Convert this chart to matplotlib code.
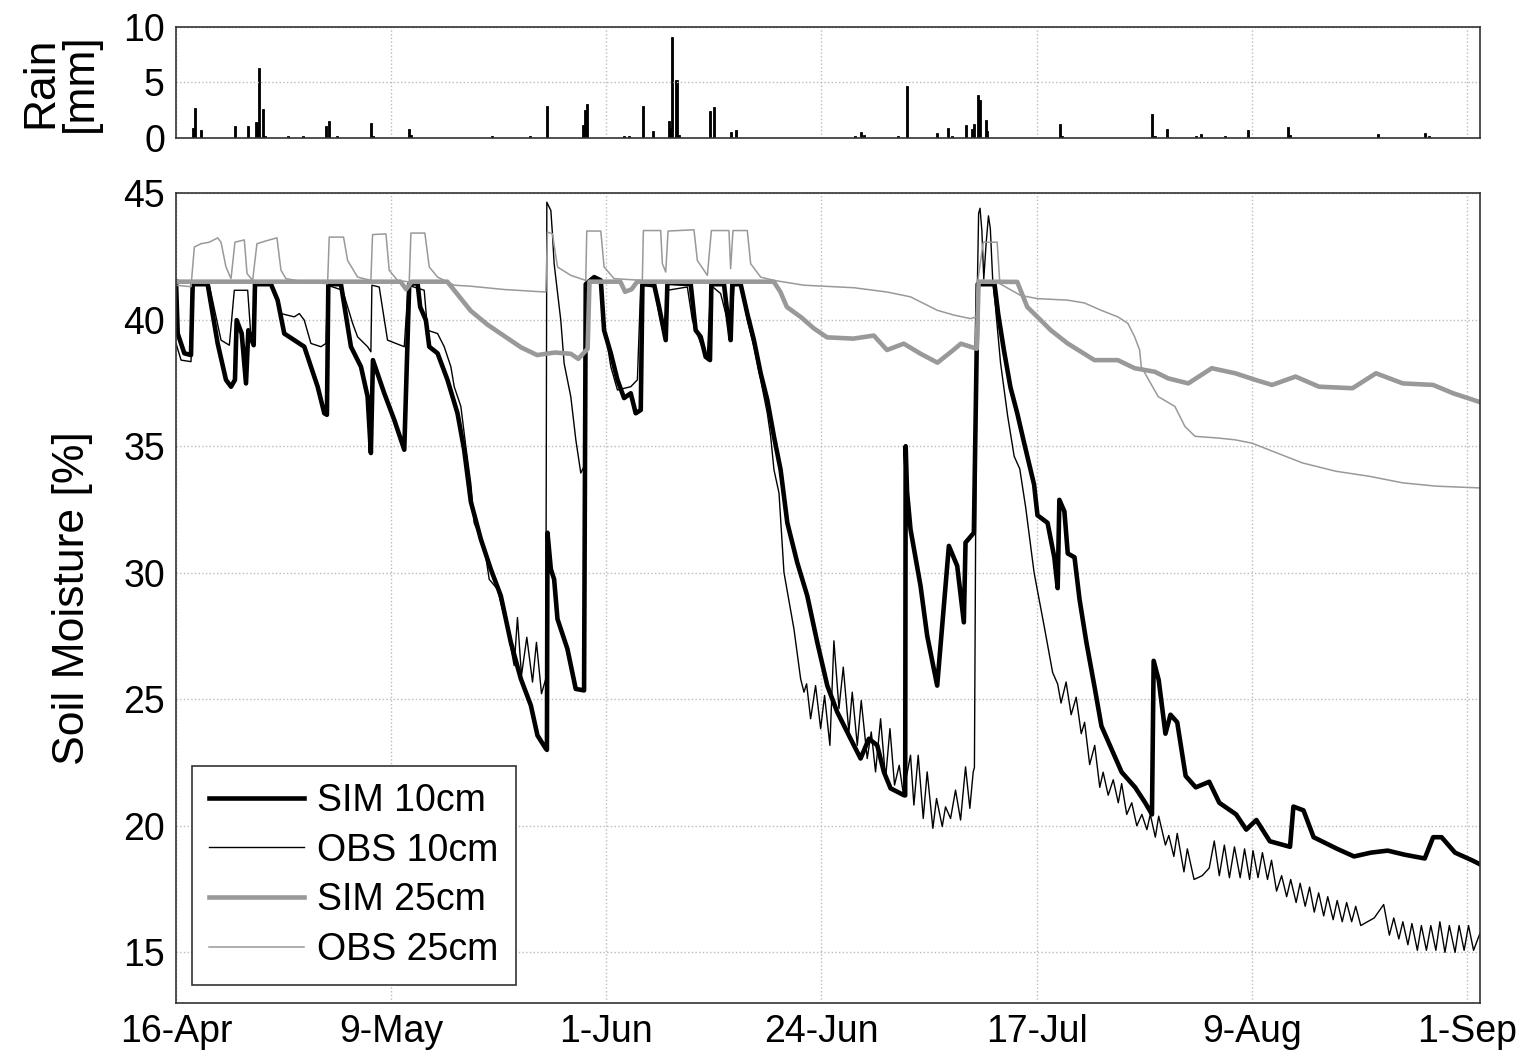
import numpy as np
import matplotlib
matplotlib.use('Agg')
from matplotlib import pyplot as plt

plt.rcParams['font.family'] = ['Liberation Sans', 'DejaVu Sans']

# x values are days after 16-Apr
tick_days = [0, 23, 46, 69, 92, 115, 138]
tick_labels = ['16-Apr', '9-May', '1-Jun', '24-Jun', '17-Jul', '9-Aug', '1-Sep']

# rain events (day, mm)
rain_day = [1.8, 2.02, 2.64, 6.32, 7.72, 8.6, 8.9, 9.27, 9.5, 12.0, 13.6, 16.0, 16.4, 17.2,
            20.8, 21.1, 24.9, 25.1, 33.8, 37.8, 39.7, 43.5, 43.7, 43.97, 47.9, 48.4, 49.9,
            51.0, 52.7, 52.85, 53.0, 53.5, 53.8, 57.1, 57.5, 59.3, 59.9, 72.6, 73.2, 73.5,
            77.2, 78.1, 81.4, 82.5, 83.0, 84.4, 85.1, 85.3, 85.7, 85.9, 86.6, 86.7, 94.5,
            94.7, 104.3, 104.6, 105.9, 109.0, 109.6, 112.1, 114.6, 118.9, 119.1, 128.5,
            133.5, 133.9]
rain_mm = [0.9, 2.7, 0.75, 1.05, 1.05, 1.45, 6.3, 2.65, 0.15, 0.15, 0.15, 1.1, 1.5, 0.2,
           1.35, 0.15, 0.8, 0.3, 0.15, 0.15, 2.9, 1.2, 2.55, 3.1, 0.2, 0.2, 2.9,
           0.65, 1.5, 0.9, 9.1, 5.2, 0.3, 2.4, 2.75, 0.5, 0.75, 0.15, 0.5, 0.3,
           0.15, 4.65, 0.45, 0.9, 0.15, 1.2, 0.85, 1.25, 3.9, 3.45, 1.65, 0.6, 1.3,
           0.2, 2.15, 0.15, 0.8, 0.15, 0.35, 0.2, 0.75, 1.0, 0.25, 0.35,
           0.45, 0.2]

# simulated soil moisture at 10 cm (day, %)
sim10 = [(0.0, 41.5), (0.18, 39.45), (0.89, 38.67), (1.6, 38.6), (1.78, 41.4), (3.38, 41.4),
         (4.45, 39.06), (5.34, 37.62), (5.88, 37.35), (6.3, 37.62), (6.48, 39.98), (7.02, 39.45),
         (7.48, 37.48), (7.73, 39.58), (8.3, 38.99), (8.44, 41.4), (10.15, 41.4), (10.86, 40.77),
         (11.57, 39.45), (12.64, 39.19), (13.71, 38.93), (14.42, 38.14), (15.14, 37.35),
         (15.85, 36.3), (16.13, 36.24), (16.28, 41.4), (17.63, 41.4), (18.7, 38.93),
         (19.77, 38.14), (20.48, 36.96), (20.83, 34.73), (21.05, 38.4), (22.26, 37.09),
         (23.33, 36.04), (24.4, 34.86), (24.93, 41.4), (25.82, 41.45), (26.1, 40.5),
         (26.71, 39.98), (27.07, 38.93), (27.96, 38.67), (29.02, 37.62), (30.09, 36.3),
         (30.8, 34.86), (31.52, 32.8), (32.59, 31.32), (33.65, 30.14), (34.72, 29.09),
         (35.79, 27.25), (36.86, 25.81), (37.93, 24.76), (38.64, 23.57), (39.53, 23.05),
         (39.65, 23.0), (39.71, 31.58), (40.07, 30.14), (40.42, 29.74), (40.78, 28.17),
         (41.84, 26.99), (42.73, 25.41), (43.62, 25.35), (43.8, 41.4), (44.7, 41.68),
         (45.41, 41.55), (45.76, 39.58), (46.48, 38.67), (47.19, 37.62), (47.9, 36.9),
         (48.61, 37.09), (49.14, 36.3), (49.68, 36.43), (49.86, 41.4), (51.1, 41.4),
         (51.64, 40.5), (52.35, 39.19), (52.53, 41.45), (55.02, 41.4), (55.55, 39.58),
         (56.09, 39.32), (56.62, 38.53), (57.08, 38.4), (57.23, 41.4), (58.58, 41.4),
         (58.94, 40.24), (59.29, 39.19), (59.47, 41.4), (60.36, 41.4), (61.07, 40.24),
         (61.78, 39.19), (62.5, 37.88), (63.21, 36.83), (63.92, 35.38), (64.63, 34.07),
         (65.35, 31.97), (66.41, 30.4), (67.48, 29.09), (68.55, 27.25), (69.62, 25.54),
         (70.69, 24.49), (72.11, 23.44), (73.18, 22.66), (74.07, 23.44), (74.96, 23.18),
         (75.67, 22.13), (76.39, 21.48), (77.81, 21.21), (77.95, 21.2), (78.0, 35.0),
         (78.15, 33.2), (78.52, 31.71), (79.59, 29.48), (80.3, 27.51), (81.37, 25.54),
         (81.73, 27.12), (82.62, 31.06), (83.51, 30.27), (84.22, 28.04), (84.4, 31.19),
         (85.29, 31.58), (85.7, 41.4), (87.5, 41.4), (87.9, 40.2), (88.5, 38.8), (89.2, 37.33),
         (89.93, 36.3), (90.65, 35.15), (91.73, 33.48), (92.09, 32.27), (93.17, 31.97),
         (93.89, 30.61), (94.25, 29.39), (94.43, 32.88), (94.97, 32.42), (95.33, 30.76),
         (96.05, 30.61), (96.59, 28.94), (97.31, 27.27), (98.21, 25.45), (98.93, 23.94),
         (100.01, 23.03), (101.09, 22.12), (102.53, 21.52), (103.61, 20.91), (104.33, 20.45),
         (104.51, 26.52), (105.05, 25.76), (105.77, 23.64), (106.31, 24.39), (107.03, 24.09),
         (107.93, 21.97), (109.01, 21.52), (110.45, 21.74), (111.53, 20.91), (113.33, 20.45),
         (114.41, 19.85), (115.49, 20.23), (116.93, 19.39), (119.09, 19.17), (119.45, 20.76),
         (120.53, 20.61), (121.61, 19.55), (124.13, 19.09), (125.93, 18.79), (127.73, 18.94),
         (129.53, 19.02), (131.33, 18.86), (133.49, 18.71), (134.39, 19.55), (135.29, 19.55),
         (136.73, 18.94), (138.53, 18.64), (139.4, 18.48)]

# observed soil moisture at 10 cm
obs10 = [(0.0, 39.06), (0.54, 38.4), (1.6, 38.34), (1.89, 41.36), (3.56, 41.36), (4.81, 39.19),
         (5.7, 38.99), (6.23, 41.16), (7.66, 41.16), (8.01, 39.32), (8.37, 39.19), (8.55, 41.36),
         (10.33, 41.36), (11.22, 40.24), (12.64, 40.11), (13.18, 40.24), (13.71, 39.98),
         (14.42, 39.06), (15.49, 38.93), (16.03, 39.06), (16.2, 41.36), (17.81, 41.16),
         (18.88, 39.85), (19.41, 39.32), (20.48, 38.93), (20.83, 38.73), (20.94, 41.36),
         (21.72, 41.29), (22.61, 39.19), (24.4, 38.93), (24.82, 41.36), (26.53, 41.16),
         (26.89, 39.58), (27.96, 39.45), (28.67, 38.93), (29.38, 38.14), (29.74, 37.35),
         (30.45, 36.57), (30.98, 34.99), (31.52, 33.5), (31.87, 31.97), (32.94, 31.06),
         (33.48, 29.74), (34.36, 29.35), (35.43, 27.77), (36.15, 26.33), (36.5, 28.23),
         (36.93, 25.94), (37.5, 27.45), (38.11, 25.68), (38.53, 27.25), (39.07, 25.22),
         (39.53, 25.81), (39.64, 44.64), (40.07, 44.31), (40.24, 43.39), (40.42, 42.21),
         (41.13, 39.98), (41.49, 38.27), (42.2, 36.96), (42.74, 35.25), (43.27, 33.94),
         (43.62, 34.2), (43.8, 41.42), (45.5, 41.5), (45.76, 39.85), (46.48, 38.14),
         (47.19, 37.22), (48.61, 37.35), (49.32, 37.62), (49.68, 41.36), (51.1, 41.29),
         (51.64, 40.24), (52.17, 39.45), (52.53, 41.16), (54.66, 41.29), (55.2, 39.98),
         (56.09, 39.06), (56.8, 38.53), (57.16, 41.36), (58.22, 41.03), (58.94, 39.98),
         (59.29, 39.19), (59.65, 41.36), (60.36, 41.36), (61.07, 39.98), (61.78, 38.93),
         (62.5, 37.62), (63.21, 36.3), (63.57, 35.38), (63.92, 34.07), (64.46, 33.15),
         (64.99, 30.01), (66.06, 27.77), (66.77, 25.81), (67.13, 25.28), (67.41, 25.61),
         (67.84, 24.23), (68.37, 25.54), (68.91, 23.84), (69.33, 25.15), (69.9, 23.18),
         (70.33, 27.31), (70.87, 24.63), (71.33, 26.27), (71.93, 23.71), (72.29, 25.28),
         (72.83, 23.18), (73.25, 24.95), (73.89, 22.66), (74.32, 23.71), (74.78, 22.13),
         (75.32, 24.23), (75.85, 21.87), (76.32, 23.84), (76.81, 21.61), (77.31, 22.39),
         (77.74, 21.28), (78.52, 22.79), (78.88, 20.82), (79.34, 22.79), (79.88, 20.29),
         (80.3, 22.13), (80.91, 19.9), (81.3, 21.08), (81.91, 19.97), (82.26, 20.75),
         (82.8, 20.29), (83.33, 21.41), (83.87, 20.23), (84.4, 22.33), (84.86, 20.69),
         (85.22, 22.13), (85.35, 22.3), (85.6, 40.0), (85.8, 44.2), (85.95, 44.4),
         (86.15, 43.5), (86.35, 41.6), (86.6, 43.0), (86.85, 44.1), (87.05, 43.6),
         (87.3, 41.6), (87.6, 40.5), (88.14, 38.3), (88.9, 36.2), (89.6, 34.6), (90.2, 34.1),
         (90.83, 32.58), (91.73, 30.0), (92.81, 27.88), (93.71, 26.06), (94.25, 25.6),
         (94.61, 24.85), (95.15, 25.68), (95.69, 24.39), (96.23, 25.08), (96.77, 23.64),
         (97.13, 24.09), (97.67, 22.42), (98.21, 23.18), (98.75, 21.52), (99.11, 22.12),
         (99.65, 21.21), (100.19, 21.82), (100.73, 20.91), (101.09, 21.67), (101.63, 20.45),
         (102.17, 20.91), (102.71, 20.0), (103.25, 20.45), (103.79, 19.85), (104.15, 20.45),
         (104.69, 19.55), (105.05, 20.38), (105.77, 19.24), (106.13, 19.62), (106.67, 18.79),
         (107.03, 19.7), (107.75, 18.18), (108.11, 19.09), (108.83, 17.88), (109.7, 18.03),
         (110.45, 18.33), (110.99, 19.4), (111.53, 18.03), (112.07, 19.24), (112.61, 17.95),
         (113.15, 19.17), (113.76, 17.95), (114.23, 19.09), (114.77, 17.88), (115.13, 19.02),
         (115.67, 17.95), (116.14, 18.94), (116.68, 17.88), (117.11, 18.64), (117.65, 17.42),
         (118.19, 18.03), (118.73, 17.2), (119.16, 17.88), (119.74, 16.97), (120.17, 17.73),
         (120.71, 16.82), (121.18, 17.58), (121.68, 16.59), (122.15, 17.35), (122.69, 16.44),
         (123.12, 17.2), (123.7, 16.29), (124.13, 17.05), (124.67, 16.21), (125.14, 16.97),
         (125.68, 16.21), (126.11, 16.82), (126.65, 16.06), (127.37, 16.21), (128.09, 16.36),
         (129.1, 16.89), (129.71, 15.68), (130.18, 16.36), (130.72, 15.53), (131.15, 16.21),
         (131.69, 15.3), (132.12, 16.14), (132.7, 15.08), (133.13, 16.06), (133.67, 15.08),
         (134.14, 16.06), (134.68, 15.08), (135.11, 16.21), (135.65, 15.0), (136.12, 16.06),
         (136.73, 15.0), (137.16, 16.06), (137.7, 15.08), (138.17, 16.06), (138.71, 15.08),
         (139.4, 15.76)]

# simulated soil moisture at 25 cm
sim25 = [(0.0, 41.5), (24.0, 41.5), (24.6, 41.2), (25.2, 41.5), (29.0, 41.5), (31.5, 40.35),
         (33.3, 39.8), (36.9, 38.9), (38.6, 38.6), (40.5, 38.7), (42.2, 38.65), (43.0, 38.45),
         (44.0, 38.85), (44.2, 41.5), (47.5, 41.5), (48.0, 41.1), (48.7, 41.2), (49.3, 41.5),
         (63.9, 41.5), (64.6, 41.1), (65.3, 40.5), (66.8, 40.1), (68.2, 39.65), (69.6, 39.3),
         (72.4, 39.25), (74.6, 39.37), (76.0, 38.8), (77.8, 39.05), (79.6, 38.65), (81.4, 38.3),
         (83.1, 38.8), (83.9, 39.05), (85.6, 38.85), (85.8, 41.5), (89.93, 41.49), (91.0, 40.5),
         (92.08, 40.11), (93.52, 39.58), (95.31, 39.06), (98.18, 38.4), (100.68, 38.4),
         (102.48, 38.08), (104.63, 37.94), (106.06, 37.68), (108.21, 37.48), (110.72, 38.08),
         (113.23, 37.88), (115.38, 37.62), (117.17, 37.42), (119.68, 37.75), (122.19, 37.35),
         (125.77, 37.29), (128.28, 37.88), (131.15, 37.48), (134.38, 37.42), (136.53, 37.09),
         (139.4, 36.74)]

# observed soil moisture at 25 cm
obs25 = [(0.0, 41.36), (1.6, 41.3), (1.96, 42.87), (2.67, 43.0), (3.56, 43.06), (4.45, 43.23),
         (4.81, 43.06), (5.34, 42.08), (5.88, 41.62), (6.3, 43.06), (7.3, 43.15), (7.59, 41.82),
         (8.19, 41.55), (8.65, 43.0), (9.79, 43.13), (10.79, 43.23), (11.22, 41.95),
         (11.75, 41.62), (13.71, 41.49), (16.2, 41.42), (16.38, 43.26), (17.91, 43.26),
         (18.34, 42.34), (19.41, 41.68), (20.83, 41.55), (21.01, 43.36), (22.44, 43.39),
         (22.79, 41.95), (23.68, 41.55), (24.93, 41.49), (25.11, 43.42), (26.6, 43.42),
         (27.07, 42.08), (27.96, 41.68), (29.74, 41.36), (31.52, 41.32), (35.08, 41.19),
         (39.53, 41.09), (39.71, 43.46), (40.24, 43.39), (40.78, 42.08), (42.2, 41.75),
         (43.8, 41.55), (43.91, 43.5), (45.41, 43.5), (45.76, 42.08), (46.83, 41.62),
         (49.85, 41.55), (49.96, 43.52), (51.81, 43.52), (51.99, 42.21), (52.35, 41.88),
         (52.6, 43.5), (55.37, 43.55), (55.73, 42.34), (56.8, 41.75), (57.23, 43.52),
         (59.11, 43.52), (59.29, 42.01), (59.54, 43.52), (61.07, 43.52), (61.43, 42.21),
         (62.5, 41.68), (63.92, 41.55), (67.13, 41.36), (72.47, 41.26), (76.03, 41.09),
         (78.52, 40.9), (81.37, 40.37), (83.15, 40.18), (84.93, 40.04), (85.57, 40.11),
         (85.72, 41.55), (86.29, 43.06), (87.78, 43.06), (88.07, 41.42), (90.27, 40.96),
         (92.08, 40.83), (95.31, 40.77), (97.1, 40.66), (98.89, 40.37), (100.68, 40.11),
         (101.76, 39.85), (102.48, 39.32), (103.01, 38.8), (103.19, 38.14), (104.99, 36.96),
         (106.78, 36.57), (107.85, 35.78), (108.93, 35.39), (111.44, 35.32), (113.23, 35.25),
         (115.02, 35.12), (116.81, 34.86), (120.4, 34.34), (123.98, 34.01), (127.57, 33.81),
         (131.15, 33.55), (134.73, 33.42), (139.4, 33.35)]

gray = '#999999'

fig = plt.figure(figsize=(15.28, 10.58), dpi=100)
ax_r = fig.add_axes([0.1152, 0.8696, 0.8534, 0.1049])
ax = fig.add_axes([0.1152, 0.0520, 0.8534, 0.7655])

# rain panel
ax_r.bar(rain_day, rain_mm, width=0.22, color='k', edgecolor='k', linewidth=0.6)
ax_r.set_xlim(0, 139.4)
ax_r.set_ylim(0, 10)
ax_r.set_yticks([0, 5, 10])
ax_r.set_xticks(tick_days)
ax_r.set_xticklabels([])
ax_r.set_ylabel('Rain\n[mm]', fontsize=32, linespacing=0.95)
ax_r.yaxis.set_label_coords(-0.058, 0.5)

# soil moisture panel
for data, col, lw, lab in [(sim10, 'k', 3.3, 'SIM 10cm'),
                           (obs10, 'k', 1.0, 'OBS 10cm'),
                           (sim25, gray, 3.3, 'SIM 25cm'),
                           (obs25, gray, 1.1, 'OBS 25cm')]:
    arr = np.array(data)
    ax.plot(arr[:, 0], arr[:, 1], color=col, lw=lw, label=lab)

ax.set_xlim(0, 139.4)
ax.set_ylim(13, 45)
ax.set_yticks([15, 20, 25, 30, 35, 40, 45])
ax.set_xticks(tick_days)
ax.set_xticklabels(tick_labels)
ax.set_ylabel('Soil Moisture [%]', fontsize=32)
ax.yaxis.set_label_coords(-0.064, 0.5)

for a in (ax, ax_r):
    a.grid(True, linestyle=':', color='#bbbbbb', linewidth=1.0)
    a.tick_params(length=0, labelsize=27, pad=8)
    for s in a.spines.values():
        s.set_linewidth(1.2)
        s.set_color('#333333')

leg = ax.legend(loc='lower left', bbox_to_anchor=(0.012, 0.022), fontsize=27,
                handlelength=2.55, handletextpad=0.35, labelspacing=0.37,
                borderpad=0.45, borderaxespad=0, fancybox=False, framealpha=1,
                edgecolor='#333333')
leg.get_frame().set_linewidth(1.2)

fig.savefig('out.png', dpi=100)
